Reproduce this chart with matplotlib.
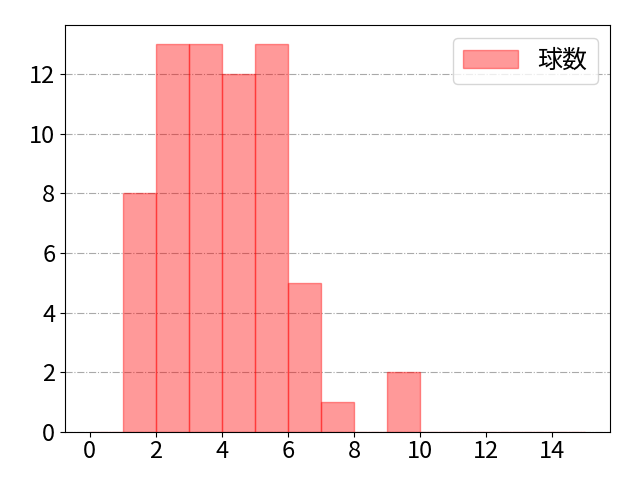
import matplotlib
matplotlib.use("Agg")
import matplotlib.pyplot as plt
import numpy as np

plt.rcParams['font.family'] = ['Noto Sans CJK JP', 'DejaVu Sans']
plt.rcParams['font.size'] = 17

bin_edges = list(range(0, 16))
counts = [0, 8, 13, 13, 12, 13, 5, 1, 0, 2, 0, 0, 0, 0, 0]
label = '球数'

fig, ax = plt.subplots(figsize=(6.4, 4.8), dpi=100)
fig.subplots_adjust(left=65/640, right=610/640, top=1-25/480, bottom=1-432/480)
ax.hist(bin_edges[:-1], bins=bin_edges, weights=counts, color='red', alpha=0.4,
        edgecolor='red', label=label)
ax.set_axisbelow(True)
ax.grid(axis='y', linestyle='-.', color='darkgray', linewidth=0.8)
ax.set_xticks([0, 2, 4, 6, 8, 10, 12, 14])
ax.tick_params(axis='x', pad=2)
ax.legend(loc='upper right', fontsize=18, handlelength=2.2)
fig.savefig('out.png', dpi=100)
